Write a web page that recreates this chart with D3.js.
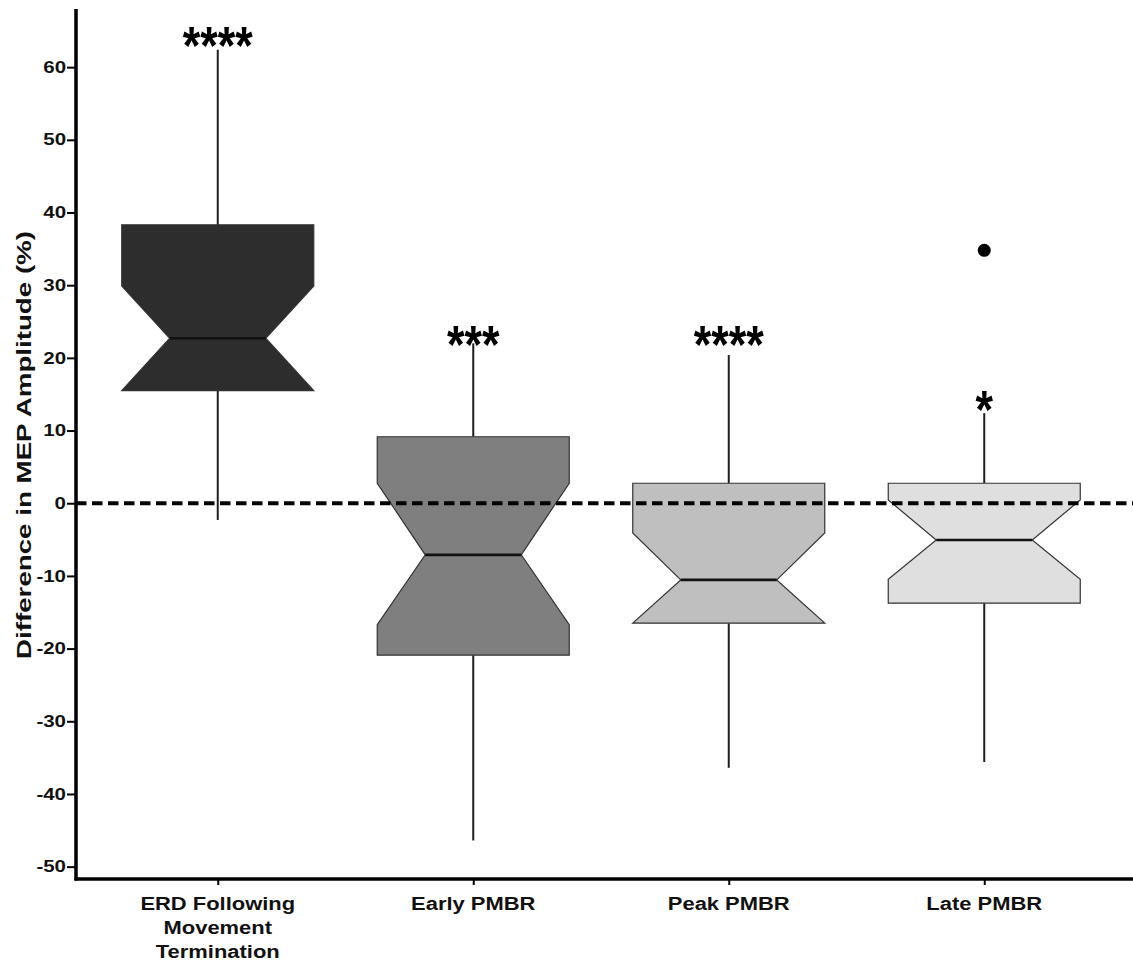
<!DOCTYPE html>
<html>
<head>
<meta charset="utf-8">
<script src="https://cdn.jsdelivr.net/npm/d3@7"></script>
<style>
  html, body { margin: 0; padding: 0; background: #fff; }
  svg { display: block; }
</style>
</head>
<body>
<svg id="chart" width="1133" height="963"></svg>
<script>
// Change in MEP amplitude per movement-related beta phase (notched box plots)
const categories = ["ERD Following Movement Termination", "Early PMBR", "Peak PMBR", "Late PMBR"];
const categoryLines = [["ERD Following", "Movement", "Termination"], ["Early PMBR"], ["Peak PMBR"], ["Late PMBR"]];
const whiskerLow  = [-2.3, -46.4, -36.4, -35.6];
const q1          = [15.5, -20.9, -16.5, -13.75];
const notchLow    = [15.5, -16.7, -16.5, -10.45];
const median      = [22.7, -7.1, -10.55, -5.05];
const notchHigh   = [29.9, 2.75, -4.1, 0.45];
const q3          = [38.3, 9.15, 2.75, 2.75];
const whiskerHigh = [62.4, 22.0, 20.4, 12.4];
const outlierCategory = ["Late PMBR"];
const outlierValue    = [34.8];
const significance = ["****", "***", "****", "*"];
const significanceY = [63.4, 22.2, 22.2, 13.3];
const fills = ["#2d2d2d", "#7f7f7f", "#bfbfbf", "#dfdfdf"];
const yTicks = [-50, -40, -30, -20, -10, 0, 10, 20, 30, 40, 50, 60];
const yTitle = "Difference in MEP Amplitude (%)";

const FONT = "'Liberation Sans', Arial, Helvetica, sans-serif";
const svg = d3.select("#chart");

const axisX = 76, axisBottom = 879, axisTop = 9, rightEdge = 1133;

const y = d3.scaleLinear().domain([-51.7, 68]).range([axisBottom, axisTop]);
const x = d3.scalePoint().domain(categories).range([90, 1112]).padding(0.5);
const boxHalf = 96;
const notchInset = boxHalf / 2;

const boxes = categories.map((c, i) => ({
  c, i, lo: whiskerLow[i], q1: q1[i], nl: notchLow[i], med: median[i],
  nh: notchHigh[i], q3: q3[i], hi: whiskerHigh[i], fill: fills[i]
}));

// whiskers
const gW = svg.append("g");
boxes.forEach(b => {
  const cx = x(b.c);
  gW.append("line").attr("x1", cx).attr("x2", cx).attr("y1", y(b.q3)).attr("y2", y(b.hi))
    .attr("stroke", "#1e1e1e").attr("stroke-width", 2);
  gW.append("line").attr("x1", cx).attr("x2", cx).attr("y1", y(b.q1)).attr("y2", y(b.lo))
    .attr("stroke", "#1e1e1e").attr("stroke-width", 2);
});

// notched boxes
const gB = svg.append("g");
boxes.forEach(b => {
  const cx = x(b.c), l = cx - boxHalf, r = cx + boxHalf;
  const pts = [
    [l, y(b.q3)], [l, y(b.nh)], [l + notchInset, y(b.med)], [l, y(b.nl)], [l, y(b.q1)],
    [r, y(b.q1)], [r, y(b.nl)], [r - notchInset, y(b.med)], [r, y(b.nh)], [r, y(b.q3)]
  ];
  gB.append("path").attr("d", d3.line()(pts) + "Z")
    .attr("fill", b.fill).attr("stroke", "#333").attr("stroke-width", 1.2)
    .attr("stroke-linejoin", "miter");
  gB.append("line")
    .attr("x1", l + notchInset).attr("x2", r - notchInset)
    .attr("y1", y(b.med)).attr("y2", y(b.med))
    .attr("stroke", "#111").attr("stroke-width", 2.6);
});

// outliers
outlierValue.forEach((v, k) => {
  svg.append("circle").attr("cx", x(outlierCategory[k])).attr("cy", y(v)).attr("r", 6.5).attr("fill", "#000");
});

// zero reference line
svg.append("line").attr("x1", axisX).attr("x2", rightEdge).attr("y1", y(0)).attr("y2", y(0))
  .attr("stroke", "#000").attr("stroke-width", 4.2).attr("stroke-dasharray", "10.5,5.5");

// significance stars
categories.forEach((c, i) => {
  const fs = 45;
  svg.append("text")
    .attr("transform", `translate(${x(c)},${y(significanceY[i]) + 0.40 * fs * 1.2}) scale(1,1.2)`)
    .attr("text-anchor", "middle")
    .style("font", `bold ${fs}px ${FONT}`)
    .attr("fill", "#000")
    .text(significance[i]);
});

// y axis
const yAxis = svg.append("g").attr("transform", `translate(${axisX},0)`)
  .call(d3.axisLeft(y).tickValues(yTicks).tickFormat(d => String(d)).tickSize(9).tickPadding(1).tickSizeOuter(0));
yAxis.select(".domain").remove();
yAxis.selectAll(".tick line").attr("stroke", "#000").attr("stroke-width", 2);
const tickSx = 1.28;
yAxis.selectAll(".tick text")
  .style("font", `bold 16px ${FONT}`).attr("fill", "#111")
  .attr("x", -10 / tickSx)
  .attr("transform", `scale(${tickSx},1)`);
svg.append("line").attr("x1", axisX).attr("x2", axisX).attr("y1", axisTop).attr("y2", axisBottom + 1.5)
  .attr("stroke", "#000").attr("stroke-width", 3.5);

// x axis
svg.append("line").attr("x1", axisX - 1.5).attr("x2", rightEdge).attr("y1", axisBottom).attr("y2", axisBottom)
  .attr("stroke", "#000").attr("stroke-width", 3.5);
const xAxis = svg.append("g").attr("transform", `translate(0,${axisBottom})`)
  .call(d3.axisBottom(x).tickSize(6).tickFormat(""));
xAxis.select(".domain").remove();
xAxis.selectAll(".tick line").attr("stroke", "#000").attr("stroke-width", 2);

const labSx = 1.18, labFs = 18.6;
categories.forEach((c, i) => {
  categoryLines[i].forEach((line, j) => {
    svg.append("text")
      .attr("transform", `translate(${x(c)},${910 + j * 24}) scale(${labSx},1)`)
      .attr("text-anchor", "middle")
      .style("font", `bold ${labFs}px ${FONT}`)
      .attr("fill", "#111")
      .text(line);
  });
});

// y axis title
svg.append("text")
  .attr("transform", `translate(31,445) rotate(-90) scale(1.32,1)`)
  .attr("text-anchor", "middle")
  .style("font", `bold 21px ${FONT}`)
  .attr("fill", "#111")
  .text(yTitle);
</script>
</body>
</html>
